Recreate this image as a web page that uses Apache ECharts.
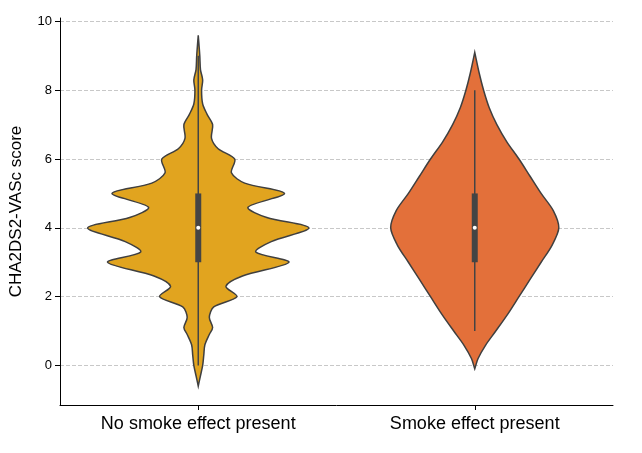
<!DOCTYPE html>
<html>
<head>
<meta charset="utf-8">
<script src="https://cdn.jsdelivr.net/npm/echarts@6/dist/echarts.min.js"></script>
<style>html,body{margin:0;padding:0;background:#fff}#chart{width:642px;height:453px}</style>
</head>
<body>
<div id="chart"></div>
<script>
const categories = ['No smoke effect present', 'Smoke effect present'];
const yTicks = [0, 2, 4, 6, 8, 10];

// density outline: score level and relative half-width (1 = widest point of first violin)
const noSmokeLevels = [-0.6, -0.3, 0, 0.3, 0.6, 0.9, 1.1, 1.4, 1.7, 2.0, 2.3, 2.6, 3.0, 3.3, 3.6, 4.0, 4.3, 4.6, 5.0, 5.3, 5.6, 6.0, 6.3, 6.6, 7.0, 7.3, 7.6, 8.0, 8.3, 8.6, 9.0, 9.6];
const noSmokeWidths = [0, 0.02, 0.04, 0.05, 0.06, 0.1, 0.13, 0.1, 0.14, 0.35, 0.25, 0.4, 0.82, 0.52, 0.66, 1.0, 0.62, 0.45, 0.78, 0.42, 0.3, 0.33, 0.18, 0.12, 0.13, 0.08, 0.04, 0.03, 0.04, 0.02, 0.014, 0];
const smokeLevels = [-0.1, 0.2, 0.6, 1.0, 1.5, 2.0, 2.5, 3.0, 3.5, 4.0, 4.5, 5.0, 5.5, 6.0, 6.5, 7.0, 7.5, 8.0, 8.5, 9.1];
const smokeWidths = [0, 0.03, 0.1, 0.19, 0.3, 0.4, 0.5, 0.6, 0.7, 0.76, 0.71, 0.6, 0.5, 0.4, 0.29, 0.2, 0.13, 0.08, 0.04, 0];

// box stats: whisker low, q1, median, q3, whisker high
const noSmokeBox = [0, 3, 4, 5, 9];
const smokeBox = [1, 3, 4, 5, 8];

const colors = ['#E1A41F', '#E3703A'];
const maxHalfFrac = 0.40;

const violins = [
    { levels: noSmokeLevels, widths: noSmokeWidths, box: noSmokeBox },
    { levels: smokeLevels, widths: smokeWidths, box: smokeBox }
];

const chart = echarts.init(document.getElementById('chart'));

const renderItem = (params, api) => {
    const idx = api.value(0);
    const v = violins[idx];
    const band = api.size([1, 0])[0];
    const cx = api.coord([idx, 0])[0];
    const left = [], right = [];
    v.levels.forEach((lv, i) => {
        const y = api.coord([idx, lv])[1];
        const hw = v.widths[i] * maxHalfFrac * band;
        right.push([cx + hw, y]);
        left.unshift([cx - hw, y]);
    });
    const yAt = (val) => api.coord([idx, val])[1];
    return {
        type: 'group',
        children: [
            {
                type: 'polygon',
                shape: { points: right.concat(left), smooth: 0.3 },
                style: { fill: colors[idx], stroke: '#3f3f3f', lineWidth: 1.5 }
            },
            {
                type: 'line',
                shape: { x1: cx, y1: yAt(v.box[0]), x2: cx, y2: yAt(v.box[4]) },
                style: { stroke: '#444', lineWidth: 1.5 }
            },
            {
                type: 'rect',
                shape: { x: cx - 3, y: yAt(v.box[3]), width: 6, height: yAt(v.box[1]) - yAt(v.box[3]) },
                style: { fill: '#444' }
            },
            {
                type: 'circle',
                shape: { cx: cx, cy: yAt(v.box[2]), r: 2 },
                style: { fill: '#fff' }
            }
        ]
    };
};

chart.setOption({
    animation: false,
    grid: { left: 60, right: 29, top: 18, bottom: 48 },
    xAxis: {
        type: 'category',
        data: categories,
        axisLine: { onZero: false, lineStyle: { color: '#000', width: 1 } },
        axisTick: { show: true, alignWithLabel: true, lineStyle: { color: '#000' } },
        axisLabel: { color: '#000', fontSize: 18, fontFamily: 'Liberation Sans', margin: 10 },
        splitLine: { show: false }
    },
    yAxis: {
        type: 'value',
        min: -1.15,
        max: 10.1,
        name: 'CHA2DS2-VASc score',
        nameLocation: 'middle',
        nameGap: 35,
        nameTextStyle: { color: '#000', fontSize: 17, fontFamily: 'Liberation Sans' },
        axisLine: { show: true, lineStyle: { color: '#000', width: 1 } },
        axisTick: { show: true, customValues: yTicks, lineStyle: { color: '#000' } },
        axisLabel: { customValues: yTicks, color: '#000', fontSize: 13, fontFamily: 'Liberation Sans' },
        splitLine: { show: true, lineStyle: { color: '#c8c8c8', type: 'dashed' } }
    },
    series: [{
        type: 'custom',
        renderItem: renderItem,
        data: [[0], [1]],
        encode: { x: 0 }
    }]
});
</script>
</body>
</html>
